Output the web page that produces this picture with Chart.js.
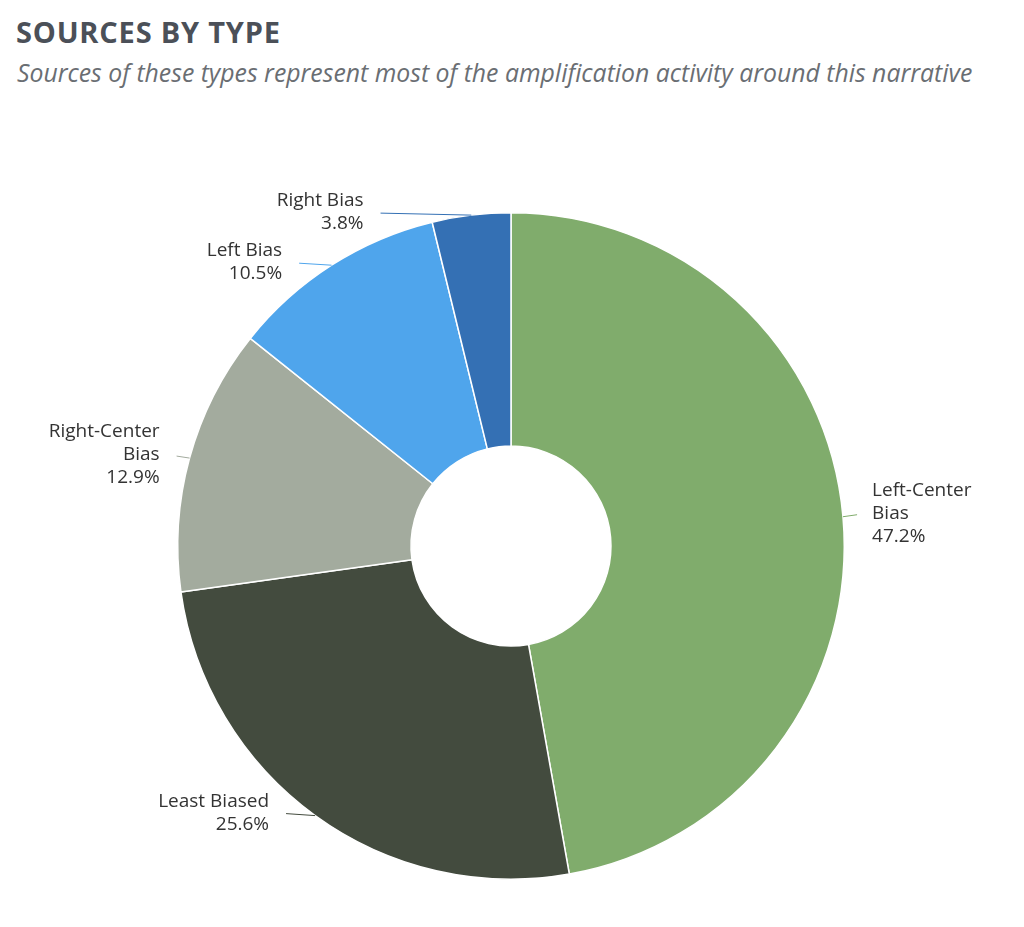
<!DOCTYPE html>
<html lang="en">
<head>
    <meta charset="UTF-8">
    <title>Sources by type</title>
    <script src="https://cdn.jsdelivr.net/npm/chart.js"></script>
    <style>
        body { margin: 0; background: #fff; width: 1024px; height: 927px; overflow: hidden; font-family: "Open Sans", sans-serif; }
        .titulo { position: absolute; left: 16px; top: 12px; font-size: 29px; font-weight: 700; color: #4b5058; letter-spacing: 0.8px; }
        .subtitulo { position: absolute; left: 17px; top: 55px; font-size: 24.8px; font-style: italic; color: #6a6e73; white-space: nowrap; }
        .grafico { position: absolute; left: 0; top: 130px; width: 1024px; height: 797px; }
    </style>
</head>
<body>
    <div class="titulo">SOURCES BY TYPE</div>
    <div class="subtitulo">Sources of these types represent most of the amplification activity around this narrative</div>
    <div class="grafico">
        <canvas id="graficoPizza"></canvas>
    </div>
<script>
    // dados
    const categorias = [['Left-Center', 'Bias'], ['Least Biased'], ['Right-Center', 'Bias'], ['Left Bias'], ['Right Bias']];
    const valores = [47.2, 25.6, 12.9, 10.5, 3.8];
    const cores = ['#80ac6c', '#434b3e', '#a3ab9e', '#4fa5ec', '#3470b4'];

    // rotulos externos com linha de ligacao
    const rotulos = {
        id: 'rotulos',
        afterDatasetsDraw(chart) {
            const ctx = chart.ctx;
            const arcos = chart.getDatasetMeta(0).data;
            ctx.save();
            ctx.font = '19px "Open Sans"';
            ctx.textBaseline = 'middle';
            arcos.forEach((arco, i) => {
                const p = arco.getProps(['x', 'y', 'startAngle', 'endAngle', 'outerRadius'], true);
                const meio = (p.startAngle + p.endAngle) / 2;
                const ax = p.x + Math.cos(meio) * p.outerRadius;
                const ay = p.y + Math.sin(meio) * p.outerRadius;
                const R = p.outerRadius + 29;
                const dy = ay - p.y;
                const dx = Math.max(Math.sqrt(Math.max(R * R - dy * dy, 0)), 112);
                const direita = ax >= p.x;
                const lx = direita ? p.x + dx : p.x - dx;
                const linhas = categorias[i].concat([valores[i].toFixed(1) + '%']);

                ctx.strokeStyle = cores[i];
                ctx.lineWidth = 1;
                ctx.beginPath();
                ctx.moveTo(ax, ay);
                ctx.lineTo(direita ? lx - 15 : lx + 17, ay - 2);
                ctx.stroke();

                ctx.fillStyle = '#333';
                ctx.textAlign = direita ? 'left' : 'right';
                const alt = 23;
                const y0 = ay - 3 - (linhas.length - 1) * alt / 2;
                linhas.forEach((t, k) => ctx.fillText(t, lx, y0 + k * alt));
            });
            ctx.restore();
        }
    };

    new Chart(document.getElementById('graficoPizza'), {
        type: 'doughnut',
        data: {
            labels: categorias.map(c => c.join(' ')),
            datasets: [{
                data: valores,
                backgroundColor: cores,
                borderColor: '#fff',
                borderWidth: 1.5
            }]
        },
        options: {
            responsive: true,
            maintainAspectRatio: false,
            animation: false,
            cutout: '30%',
            layout: { padding: { top: 82, bottom: 47, left: 82, right: 84 } },
            plugins: {
                legend: { display: false },
                tooltip: { enabled: false }
            }
        },
        plugins: [rotulos]
    });
</script>
</body>
</html>
